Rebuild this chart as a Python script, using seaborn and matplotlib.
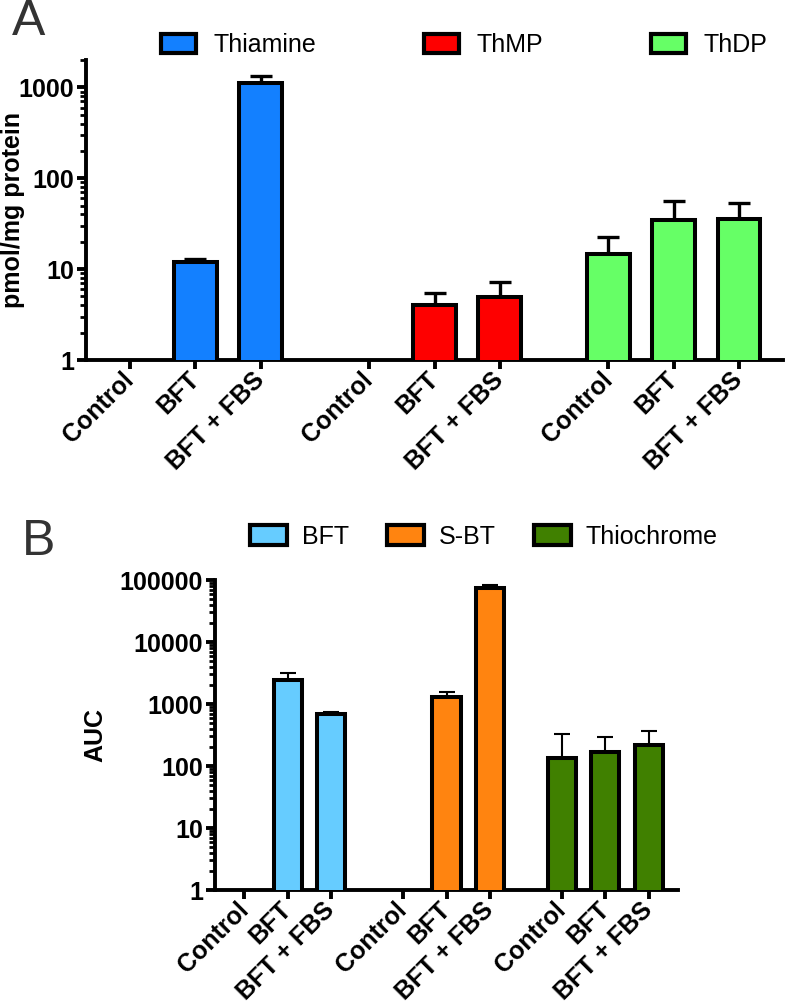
import numpy as np
import pandas as pd
import matplotlib
matplotlib.use("Agg")
import matplotlib.pyplot as plt
from matplotlib.patches import Patch
from matplotlib.ticker import LogLocator, NullFormatter
import seaborn as sns

# ---------------- data ----------------
conditions = ["Control", "BFT", "BFT + FBS"]

# Panel A (pmol/mg protein), mean and upper SD
compounds_a = ["Thiamine", "ThMP", "ThDP"]
thiamine_mean = [np.nan, 12.0, 1110.0]
thiamine_sd = [np.nan, 1.0, 210.0]
thmp_mean = [np.nan, 4.0, 4.9]
thmp_sd = [np.nan, 1.4, 2.4]
thdp_mean = [14.7, 34.5, 35.5]
thdp_sd = [8.0, 21.0, 18.0]
colors_a = ["#1380FF", "#FE0000", "#66FF66"]

# Panel B (AUC), mean and upper SD
compounds_b = ["BFT", "S-BT", "Thiochrome"]
bft_mean = [np.nan, 2450.0, 700.0]
bft_sd = [np.nan, 750.0, 50.0]
sbt_mean = [np.nan, 1300.0, 75000.0]
sbt_sd = [np.nan, 280.0, 9000.0]
thio_mean = [135.0, 170.0, 220.0]
thio_sd = [195.0, 125.0, 145.0]
colors_b = ["#66CCFF", "#FF8410", "#408000"]

yticks_a = [1, 10, 100, 1000]
yticks_b = [1, 10, 100, 1000, 10000, 100000]

GAP = 0.67  # extra space between groups (in bar slots)


def build_df(compounds, means, sds):
    rows = []
    for g, (comp, m, s) in enumerate(zip(compounds, means, sds)):
        for i, cond in enumerate(conditions):
            rows.append(dict(pos=g * (3 + GAP) + i, compound=comp,
                             condition=cond, mean=m[i], sd=s[i]))
    return pd.DataFrame(rows)


df_a = build_df(compounds_a, [thiamine_mean, thmp_mean, thdp_mean],
                [thiamine_sd, thmp_sd, thdp_sd])
df_b = build_df(compounds_b, [bft_mean, sbt_mean, thio_mean],
                [bft_sd, sbt_sd, thio_sd])

# ---------------- style ----------------
sns.set_style("ticks")
plt.rcParams["font.family"] = ["Liberation Sans", "DejaVu Sans"]
plt.rcParams["text.color"] = "black"
plt.rcParams["axes.labelcolor"] = "black"
plt.rcParams["xtick.color"] = "black"
plt.rcParams["ytick.color"] = "black"
FS = 18

fig = plt.figure(figsize=(7.87, 10.05), dpi=100)
W, H = 787.0, 1005.0


def axes_px(left, top, right, bottom):
    return fig.add_axes([left / W, 1 - bottom / H, (right - left) / W, (bottom - top) / H])


ax_a = axes_px(86, 60, 783, 360)
ax_b = axes_px(215, 580, 678, 890)


def draw_panel(ax, df, compounds, colors, yticks, ylim, ylabel, elw, capsize,
               label_x):
    pal = dict(zip(compounds, colors))
    d = df.dropna(subset=["mean"])
    sns.barplot(data=d, x="pos", y="mean", hue="compound", hue_order=compounds,
                palette=pal, native_scale=True, dodge=False, width=0.65,
                edgecolor="black", linewidth=2.9, errorbar=None, legend=False,
                saturation=1, ax=ax, zorder=3)
    ax.errorbar(d["pos"], d["mean"], yerr=[np.zeros(len(d)), d["sd"]],
                fmt="none", ecolor="black", elinewidth=elw, capsize=capsize,
                capthick=elw, zorder=2)
    ax.set_yscale("log")
    ax.set_ylim(*ylim)
    ax.set_xlim(df["pos"].min() - 0.68, df["pos"].max() + 0.68)
    ax.set_yticks(yticks, labels=[str(v) for v in yticks])
    ax.yaxis.set_minor_locator(LogLocator(base=10, subs=np.arange(2, 10)))
    ax.yaxis.set_minor_formatter(NullFormatter())
    ax.set_xticks(df["pos"], labels=df["condition"], rotation=45, ha="right",
                  va="center", rotation_mode="anchor")
    for lab in ax.get_xticklabels() + ax.get_yticklabels():
        lab.set_fontweight("bold")
        lab.set_fontsize(FS)
        lab.set_color("black")
    ax.tick_params(axis="both", which="major", length=6.5, width=2.8,
                   color="black", pad=2)
    ax.tick_params(axis="y", which="minor", length=4, width=2.0, color="black")
    ax.tick_params(axis="x", which="major", pad=5)
    sns.despine(ax=ax)
    for s in ["left", "bottom"]:
        ax.spines[s].set_linewidth(2.8)
        ax.spines[s].set_color("black")
    ax.set_xlabel("")
    ax.set_ylabel(ylabel, fontsize=FS, fontweight="bold", color="black")
    ax.yaxis.set_label_coords(label_x, 0.5)


draw_panel(ax_a, df_a, compounds_a, colors_a, yticks_a, (1, 2000),
           "pmol/mg protein", 2.4, 8, -0.088)
draw_panel(ax_b, df_b, compounds_b, colors_b, yticks_b, (1, 100000),
           "AUC", 1.5, 5.5, -0.233)

# legends
handles_a = [Patch(facecolor=c, edgecolor="black", linewidth=3, label=n)
             for n, c in zip(compounds_a, colors_a)]
fig.legend(handles=handles_a, loc="center", bbox_to_anchor=(464 / W, 1 - 45 / H),
           ncol=3, frameon=False, fontsize=FS, handlelength=1.4,
           handleheight=0.8, handletextpad=0.7, columnspacing=4.3,
           borderpad=0, borderaxespad=0)

handles_b = [Patch(facecolor=c, edgecolor="black", linewidth=3, label=n)
             for n, c in zip(compounds_b, colors_b)]
fig.legend(handles=handles_b, loc="center", bbox_to_anchor=(484 / W, 1 - 537 / H),
           ncol=3, frameon=False, fontsize=FS, handlelength=1.45,
           handleheight=0.85, handletextpad=0.6, columnspacing=1.55,
           borderpad=0, borderaxespad=0)

# panel letters
fig.text(12 / W, 1 - 35 / H, "A", fontsize=36, color="#333333", va="baseline")
fig.text(22 / W, 1 - 555 / H, "B", fontsize=36, color="#333333", va="baseline")

fig.savefig("out.png", dpi=100)
